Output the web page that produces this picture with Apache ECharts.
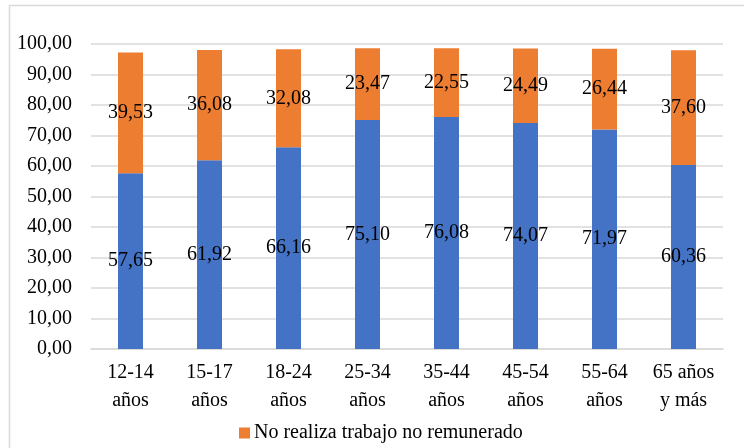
<!DOCTYPE html>
<html>
<head>
<meta charset="utf-8">
<script src="https://cdn.jsdelivr.net/npm/echarts@6/dist/echarts.min.js"></script>
<style>
  html, body { margin: 0; padding: 0; background: #fff; }
  #chart { width: 744px; height: 448px; }
</style>
</head>
<body>
<div id="chart"></div>
<script>
// Age groups along the x axis
const categories = ['12-14\naños', '15-17\naños', '18-24\naños', '25-34\naños', '35-44\naños', '45-54\naños', '55-64\naños', '65 años\ny más'];
// Share that does unpaid work (bottom segment)
const realiza = [57.65, 61.92, 66.16, 75.10, 76.08, 74.07, 71.97, 60.36];
// Share that does not do unpaid work (top segment)
const noRealiza = [39.53, 36.08, 32.08, 23.47, 22.55, 24.49, 26.44, 37.60];
// Value axis ticks
const yTicks = [0, 10, 20, 30, 40, 50, 60, 70, 80, 90, 100];

const FONT = '"Liberation Serif", "Times New Roman", serif';
const fmt = v => v.toFixed(2).replace('.', ',');

const chart = echarts.init(document.getElementById('chart'), null, { renderer: 'canvas' });

const labelStyle = {
  show: true,
  position: 'inside',
  fontFamily: FONT,
  fontSize: 20,
  color: '#000',
  formatter: p => fmt(p.value)
};

chart.setOption({
  animation: false,
  backgroundColor: '#fff',
  graphic: [{
    type: 'rect',
    shape: { x: 9.5, y: 5.5, width: 760, height: 460 },
    style: { fill: 'none', stroke: '#d9d9d9', lineWidth: 1.5 },
    silent: true,
    z: -10
  }],
  grid: { left: 91, right: 21, top: 44, bottom: 99, containLabel: false },
  legend: {
    data: ['No realiza trabajo no remunerado'],
    left: 234,
    top: 418,
    itemWidth: 11,
    itemHeight: 11,
    icon: 'rect',
    textStyle: { fontFamily: FONT, fontSize: 20, color: '#000', padding: [0, 0, 0, -1] }
  },
  xAxis: {
    type: 'category',
    data: categories,
    axisLine: { show: true, lineStyle: { color: '#d9d9d9', width: 1.5 } },
    axisTick: { show: false },
    axisLabel: {
      interval: 0,
      margin: 10,
      fontFamily: FONT,
      fontSize: 20,
      lineHeight: 28,
      color: '#000'
    }
  },
  yAxis: {
    type: 'value',
    min: yTicks[0],
    max: yTicks[yTicks.length - 1],
    interval: yTicks[1] - yTicks[0],
    axisLine: { show: false },
    axisTick: { show: false },
    splitLine: { lineStyle: { color: '#d9d9d9', width: 1.5 } },
    axisLabel: {
      margin: 19,
      fontFamily: FONT,
      fontSize: 20,
      color: '#000',
      formatter: v => fmt(v)
    }
  },
  series: [
    {
      name: 'Realiza trabajo no remunerado',
      type: 'bar',
      stack: 'total',
      barWidth: 25,
      data: realiza,
      itemStyle: { color: '#4472C4' },
      label: labelStyle
    },
    {
      name: 'No realiza trabajo no remunerado',
      type: 'bar',
      stack: 'total',
      barWidth: 25,
      data: noRealiza,
      itemStyle: { color: '#ED7D31' },
      label: labelStyle
    }
  ]
});
</script>
</body>
</html>
